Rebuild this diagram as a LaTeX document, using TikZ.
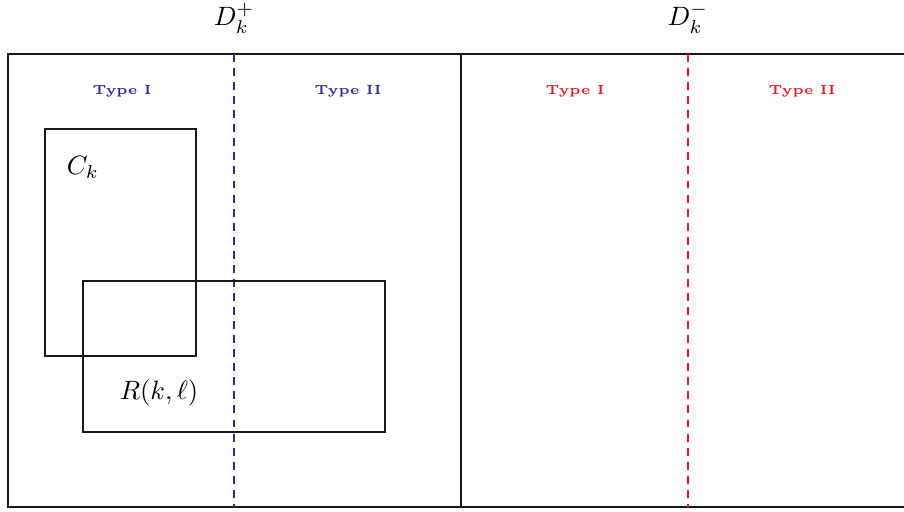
\documentclass[tikz,border=0pt]{standalone}
\usepackage{amsmath,amssymb}
\usepackage{tikz}
\usetikzlibrary{positioning}
\definecolor{typeblue}{RGB}{45,45,150}
\definecolor{typered}{RGB}{232,28,40}

\begin{document}
\begin{tikzpicture}[x=0.377pt, y=-0.377pt,
  frame/.style={line width=0.8pt, black!90},
  split/.style={line width=0.8pt, dash pattern=on 3pt off 2.3pt},
  typelabel/.style={font=\fontsize{5}{6}\selectfont\bfseries},
  setlabel/.style={font=\normalsize}
]
  \useasboundingbox (0,0) rectangle (904,511);

  % Regions
  \draw[frame] (8,54) rectangle (914,507);
  \draw[frame] (461,54) -- (461,507);
  \draw[split, typeblue] (234,54) -- (234,507);
  \draw[split, typered] (688,54) -- (688,507);

  % Sets
  \draw[frame] (45,129) rectangle (196,356);
  \draw[frame] (83,281) rectangle (385,432);

  % Labels
  \node[setlabel] (dplus)  at (234,18) {$D_k^{+}$};
  \node[setlabel] (dminus) at (688,18) {$D_k^{-}$};
  \node[typelabel, typeblue] (pI)   at (122,91) {Type I};
  \node[typelabel, typeblue] (pII)  at (348,91) {Type II};
  \node[typelabel, typered]  (mI)   at (575,91) {Type I};
  \node[typelabel, typered]  (mII)  at (802,91) {Type II};
  \node[setlabel] (ck) at (83,167) {$C_k$};
  \node[setlabel] (rkl) at (159,393) {$R(k,\ell)$};
\end{tikzpicture}
\end{document}
